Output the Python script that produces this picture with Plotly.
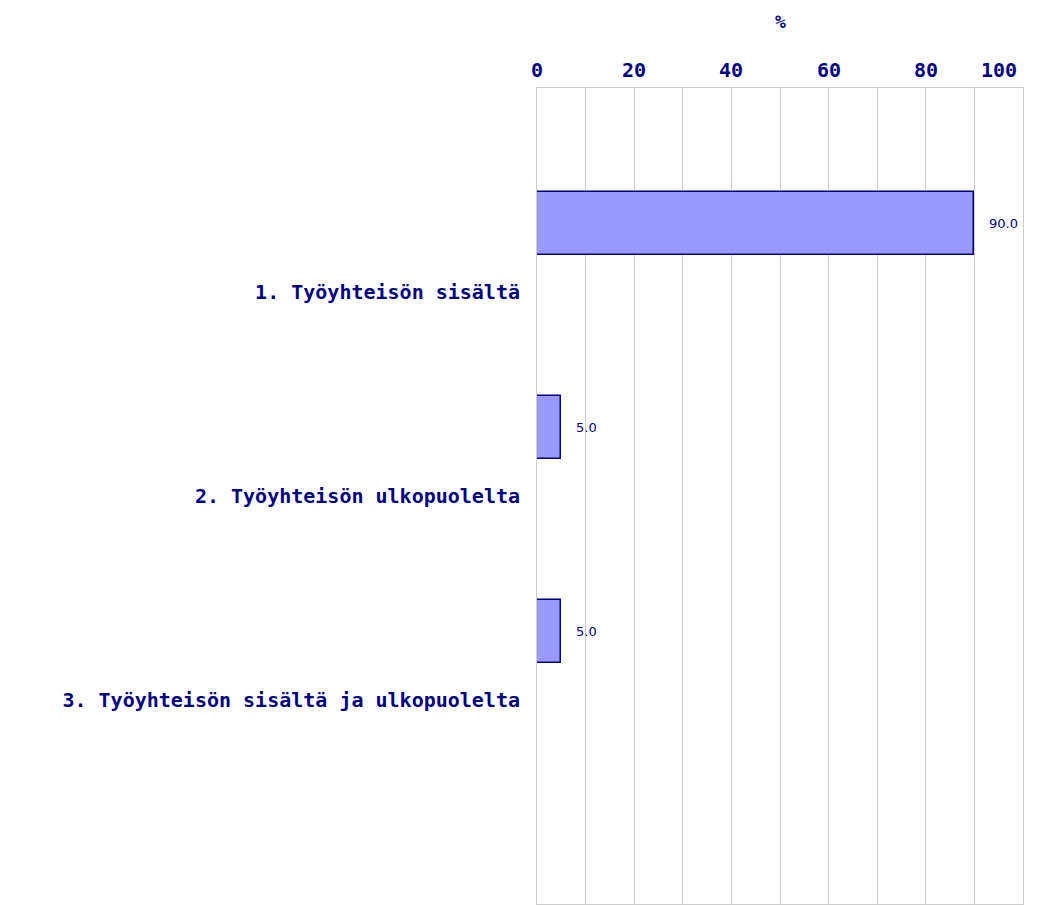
import plotly.graph_objects as go

# Survey answer shares (%)
categories = [
    "1. Työyhteisön sisältä",
    "2. Työyhteisön ulkopuolelta",
    "3. Työyhteisön sisältä ja ulkopuolelta",
]
values = [90.0, 5.0, 5.0]
x_ticks = [0, 20, 40, 60, 80, 100]

navy = "#000080"
mono_bold = dict(family="DejaVu Sans Mono", size=20, color=navy, weight="bold")

fig = go.Figure()

# bars sit above their category label, like the original layout
fig.add_trace(go.Bar(
    x=values,
    y=categories,
    orientation="h",
    offset=-0.49,
    width=0.31,
    marker=dict(color="#9999ff", line=dict(color=navy, width=1.5)),
    hoverinfo="x+y",
))

# value labels to the right of each bar
for cat, val in zip(categories, values):
    fig.add_annotation(
        x=val, y=cat, text=f"{val:.1f}",
        xanchor="left", yanchor="middle",
        xshift=13, yshift=69,
        showarrow=False,
        font=dict(family="DejaVu Sans", size=13, color=navy),
    )

# x tick labels on top (last one pulled inside the frame)
for t in x_ticks:
    last = t == x_ticks[-1]
    fig.add_annotation(
        x=t, y=1, xref="x", yref="paper",
        text=str(t),
        xanchor="right" if last else "center",
        yanchor="bottom",
        xshift=-4 if last else 0, yshift=4,
        showarrow=False,
        font=mono_bold,
    )

fig.update_xaxes(
    side="top",
    range=[0, 100],
    tickvals=x_ticks,
    showticklabels=False,
    ticks="",
    showgrid=True,
    gridcolor="#cccccc",
    gridwidth=1,
    minor=dict(dtick=10, showgrid=True, gridcolor="#cccccc", gridwidth=1),
    showline=True, linecolor="#cccccc", mirror=True,
    zeroline=False,
    fixedrange=True,
)
fig.update_yaxes(
    type="category",
    range=[3, -1],
    tickfont=mono_bold,
    ticks="",
    ticklabelstandoff=12,
    showgrid=False,
    showline=True, linecolor="#cccccc", mirror=True,
    fixedrange=True,
)

# axis unit on top
fig.add_annotation(
    x=50, y=1, xref="x", yref="paper",
    text="%", showarrow=False,
    yanchor="middle", yshift=67,
    font=dict(family="DejaVu Sans Mono", size=18, color=navy, weight="bold"),
)

fig.update_layout(
    width=1039,
    height=897,
    margin=dict(l=529, r=24, t=80, b=1),
    plot_bgcolor="white",
    paper_bgcolor="white",
    showlegend=False,
    bargap=0,
)

fig.write_html("out.html")
